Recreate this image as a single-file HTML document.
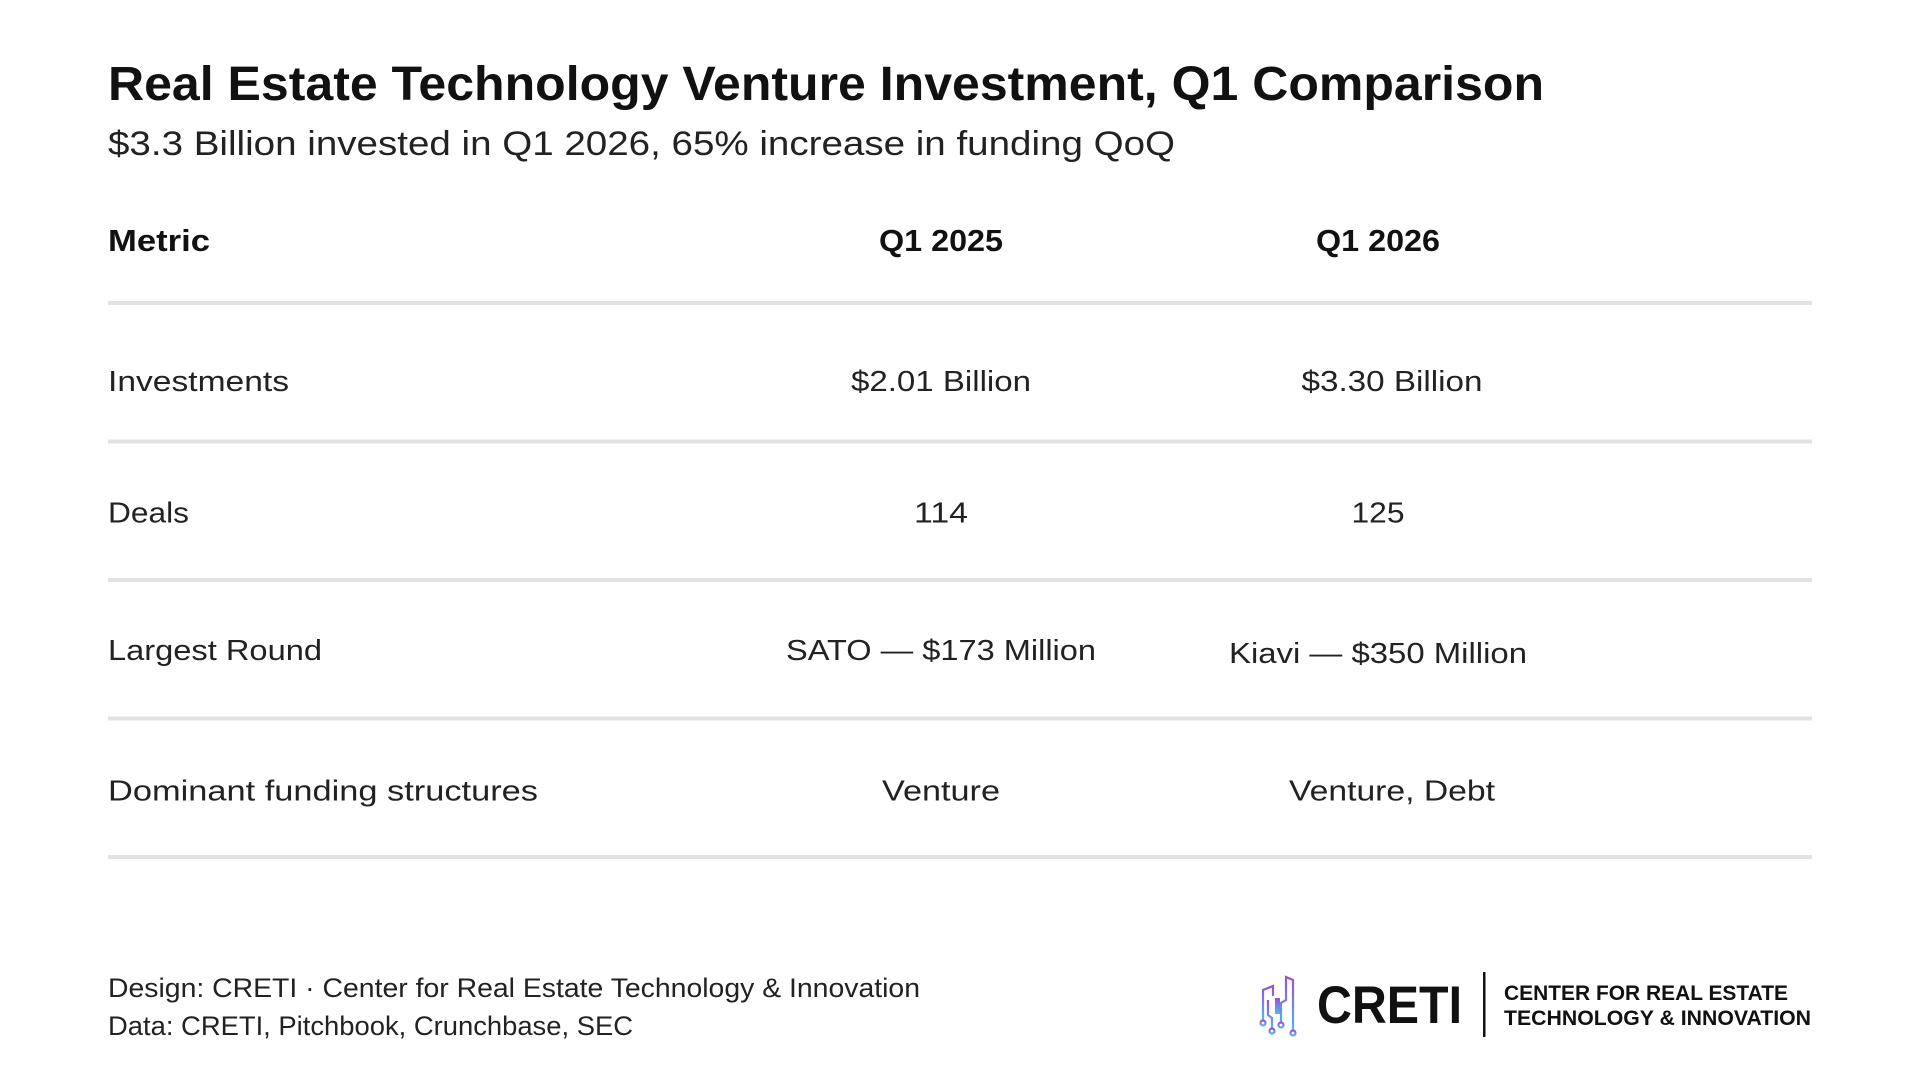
<!DOCTYPE html>
<html><head><meta charset="utf-8"><style>
html,body{margin:0;padding:0;background:#fff;}
svg{display:block;}
</style></head><body>
<svg id="chart" width="1920" height="1080" viewBox="0 0 1920 1080" xmlns="http://www.w3.org/2000/svg" font-family="'Liberation Sans', sans-serif">
<defs>
<linearGradient id="lg" x1="0" y1="0" x2="0" y2="1">
<stop offset="0" stop-color="#9b4fd8"/><stop offset="1" stop-color="#4fb8f0"/>
</linearGradient>
</defs>
<rect width="1920" height="1080" fill="#fff"/>
<text x="108" y="100" font-size="48" font-weight="bold" fill="#111" textLength="1436" lengthAdjust="spacingAndGlyphs">Real Estate Technology Venture Investment, Q1 Comparison</text>
<text x="108" y="155" font-size="34" fill="#222" textLength="1067" lengthAdjust="spacingAndGlyphs">$3.3 Billion invested in Q1 2026, 65% increase in funding QoQ</text>
<g id="table"></g>
<text x="108" y="997" font-size="27" fill="#222" textLength="812" lengthAdjust="spacingAndGlyphs">Design: CRETI · Center for Real Estate Technology &amp; Innovation</text>
<text x="108" y="1035" font-size="27" fill="#222" textLength="525" lengthAdjust="spacingAndGlyphs">Data: CRETI, Pitchbook, Crunchbase, SEC</text>
<g>
<g fill="none" stroke="url(#lg)" stroke-width="2.2">
<polyline points="1263,1020 1263,990 1273,986 1273,996"/>
<polyline points="1268,1000 1268,1015 1272,1018 1272,1028"/>
<polyline points="1281,1022 1281,1003 1286,1000 1286,977 1293,980 1293,1030"/>
<rect x="1275" y="998" width="5" height="16" fill="url(#lg)" stroke="none"/>
<circle cx="1263" cy="1023" r="2.5"/><circle cx="1272" cy="1031" r="2.5"/><circle cx="1281" cy="1025" r="2.5"/><circle cx="1293" cy="1033" r="2.5"/>
</g>
<text x="1317" y="1023" font-size="53" font-weight="bold" fill="#111" textLength="145" lengthAdjust="spacingAndGlyphs">CRETI</text>
<rect x="1483" y="972" width="2.5" height="65" fill="#111"/>
<text x="1504" y="1000" font-size="21" font-weight="bold" fill="#111" textLength="284" lengthAdjust="spacingAndGlyphs">CENTER FOR REAL ESTATE</text>
<text x="1504" y="1025" font-size="21" font-weight="bold" fill="#111" textLength="307" lengthAdjust="spacingAndGlyphs">TECHNOLOGY &amp; INNOVATION</text>
</g>
</svg>
<script>
const columns = ["Metric", "Q1 2025", "Q1 2026"];
const metrics = ["Investments", "Deals", "Largest Round", "Dominant funding structures"];
const q1_2025 = ["$2.01 Billion", "114", "SATO — $173 Million", "Venture"];
const q1_2026 = ["$3.30 Billion", "125", "Kiavi — $350 Million", "Venture, Debt"];

const NS = "http://www.w3.org/2000/svg";
const g = document.getElementById("table");
const left = 108, right = 1812, col1 = 941, col2 = 1385;
const headerY = 251, firstLine = 303, rowH = 138.5;
const rowOffset = [88, 81, 80, 82];
const w1 = [180, 54, 310, 118];
const w2 = [181, 53, 298, 206];
const c2 = [1392, 1378, 1378, 1392];
const wl = [181, 81, 214, 430];
function txt(s, x, y, anchor, size, weight, fill, w) {
  const t = document.createElementNS(NS, "text");
  t.setAttribute("x", x); t.setAttribute("y", y);
  t.setAttribute("text-anchor", anchor);
  t.setAttribute("font-size", size);
  if (weight) t.setAttribute("font-weight", weight);
  t.setAttribute("fill", fill);
  if (w) { t.setAttribute("textLength", w); t.setAttribute("lengthAdjust", "spacingAndGlyphs"); }
  t.textContent = s;
  g.appendChild(t);
  return t;
}
function approxW(s, size) { return s.length * size * 0.53; }
let h = txt(columns[0], left, headerY, "start", 31, "bold", "#111", 102);


h = txt(columns[1], col1, headerY, "middle", 31, "bold", "#111", 124);


h = txt(columns[2], 1378, headerY, "middle", 31, "bold", "#111", 124);


for (let i = 0; i <= metrics.length; i++) {
  const r = document.createElementNS(NS, "rect");
  r.setAttribute("x", left); r.setAttribute("y", firstLine - 2 + i * rowH);
  r.setAttribute("width", right - left); r.setAttribute("height", 4);
  r.setAttribute("fill", "#e2e2e2");
  
  
  g.appendChild(r);
}
metrics.forEach((m, i) => {
  const y = firstLine + i * rowH + (rowOffset[i] || 82);
  let t = txt(m, left, y, "start", 29, null, "#222", wl[i] || approxW(m, 29.5));
  
  
  t = txt(q1_2025[i], col1, y, "middle", 29, null, "#222", w1[i] || approxW(q1_2025[i], 29.5));
  
  
  t = txt(q1_2026[i], c2[i] || col2, y + (i === 2 ? 3 : 0), "middle", 29, null, "#222", w2[i] || approxW(q1_2026[i], 29.5));
  
  
});
</script>
</body></html>
